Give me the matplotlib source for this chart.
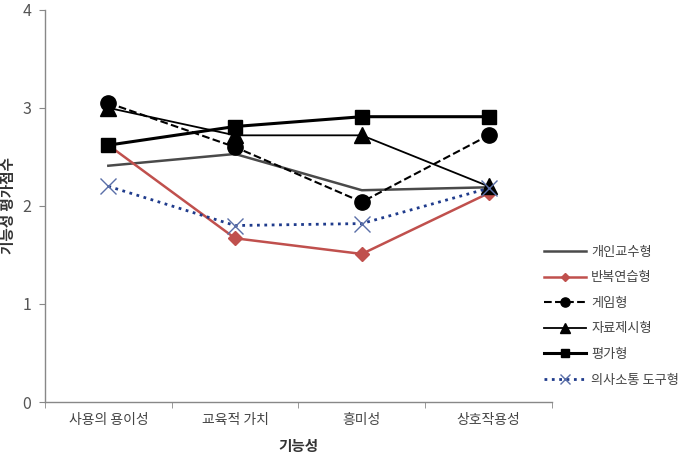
import matplotlib.pyplot as plt
from matplotlib.ticker import FixedLocator

plt.rcParams['font.family'] = ['Noto Sans CJK KR', 'DejaVu Sans']

categories = ['사용의 용이성', '교육적 가치', '흥미성', '상호작용성']
tutor = [2.41, 2.53, 2.16, 2.19]      # 개인교수형
drill = [2.62, 1.67, 1.51, 2.13]      # 반복연습형
game = [3.05, 2.60, 2.04, 2.72]       # 게임형
present = [3.00, 2.72, 2.72, 2.20]    # 자료제시형
evalu = [2.62, 2.81, 2.91, 2.91]      # 평가형
comm = [2.20, 1.80, 1.82, 2.18]       # 의사소통 도구형

x = range(len(categories))

fig = plt.figure(figsize=(6.95, 4.68), dpi=100)
ax = fig.add_axes([0.0647, 0.141, 0.7295, 0.838])

ax.plot(x, tutor, '-', color='#4a4a4a', lw=1.8, label='개인교수형')
ax.plot(x, drill, '-', color='#c0504d', lw=1.8, marker='D', ms=7, label='반복연습형')
ax.plot(x, game, '--', color='black', lw=1.5, marker='o', ms=11, label='게임형')
ax.plot(x, present, '-', color='black', lw=1.3, marker='^', ms=11, label='자료제시형')
ax.plot(x, evalu, '-', color='black', lw=2.2, marker='s', ms=10, label='평가형')
ax.plot(x, comm, ':', color='#1f3b8c', lw=2.0, marker='x', ms=12, mew=1.0,
        mec='#5a6fa8', label='의사소통 도구형')

ax.set_xlim(-0.5, 3.5)
ax.set_ylim(0, 4)
ax.set_yticks([0, 1, 2, 3, 4])
ax.set_xticks(list(x))
ax.set_xticklabels(categories, fontsize=10, color='#444444')
ax.xaxis.set_minor_locator(FixedLocator([-0.5, 0.5, 1.5, 2.5, 3.5]))
ax.tick_params(axis='x', which='major', length=0, pad=8)
ax.tick_params(axis='x', which='minor', length=4, color='#888888')
ax.tick_params(axis='y', length=4, color='#888888', labelsize=11.5, labelcolor='#555555', pad=6)

for s in ['top', 'right']:
    ax.spines[s].set_visible(False)
for s in ['left', 'bottom']:
    ax.spines[s].set_color('#888888')
    ax.spines[s].set_linewidth(1.0)

ax.set_xlabel('기능성', fontsize=10.5, fontweight='bold', color='#333333', labelpad=8)
fig.text(0.0, 0.56, '기능성 평가점수', rotation=90, ha='left', va='center',
         fontsize=10.5, fontweight='bold', color='#333333')

leg = ax.legend(loc='upper left', bbox_to_anchor=(0.765, 0.50), bbox_transform=fig.transFigure,
                frameon=False, fontsize=9.5, markerscale=0.6, handlelength=3.2,
                labelspacing=0.95, handletextpad=0.4)
for t in leg.get_texts():
    t.set_color('#444444')

fig.savefig('out.png', dpi=100)
